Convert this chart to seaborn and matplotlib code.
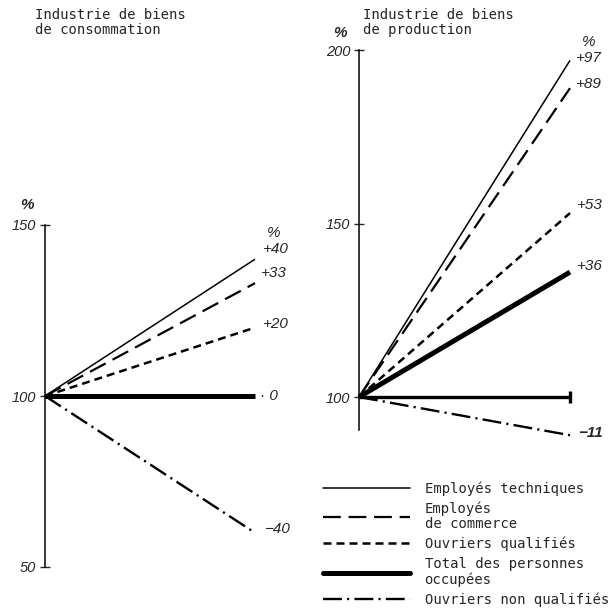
import numpy as np
import pandas as pd
import matplotlib
matplotlib.use('Agg')
import matplotlib.pyplot as plt
from matplotlib.lines import Line2D
import seaborn as sns

sns.set_style('white')
plt.rcParams['font.family'] = ['DejaVu Sans Mono', 'DejaVu Sans']

# categories and % change (index 100 at start)
categories = ['Employés techniques', 'Employés de commerce', 'Ouvriers qualifiés',
              'Total des personnes occupées', 'Ouvriers non qualifiés']
legend_labels = ['Employés techniques', 'Employés\nde commerce', 'Ouvriers qualifiés',
                 'Total des personnes\noccupées', 'Ouvriers non qualifiés']
conso_change = [40, 33, 20, 0, -40]
prod_change = [97, 89, 53, 36, -11]
conso_labels = ['+40', '+33', '+20', '· 0', '−40']
prod_labels = ['+97', '+89', '+53', '+36', '−11']
periods = [0, 1]

title_conso = 'Industrie de biens\nde consommation'
title_prod = 'Industrie de biens\nde production'

# line styles per category
widths = dict(zip(categories, [1.1, 1.6, 1.8, 3.6, 1.7]))
dashes = dict(zip(categories, ['', (8, 3.5), (3.2, 2), '', (8, 2.2, 0.9, 2.2)]))
colors = dict(zip(categories, ['black'] * 5))


def make_df(changes):
    rows = []
    for c, v in zip(categories, changes):
        for p in periods:
            rows.append({'x': p, 'cat': c, 'val': 100 + v * p})
    return pd.DataFrame(rows)


def style_axis(ax, ylim, ticks):
    ax.set_xlim(0, 1)
    ax.set_ylim(*ylim)
    for s in ['top', 'right', 'bottom']:
        ax.spines[s].set_visible(False)
    ax.spines['left'].set_linewidth(1.1)
    ax.spines['left'].set_color('black')
    ax.set_xticks([])
    ax.set_yticks(ticks)
    ax.set_yticklabels([str(t) for t in ticks])
    ax.tick_params(axis='y', direction='inout', length=7, width=1, pad=3, labelsize=10.5,
                   left=True)
    for lbl in ax.get_yticklabels():
        lbl.set_fontstyle('italic')
        lbl.set_family('Liberation Sans')
    ax.set_xlabel('')
    ax.set_ylabel('')
    ax.set_facecolor('none')


fig = plt.figure(figsize=(6.16, 6.10), dpi=100)
W, H = 616, 610

# left panel: biens de consommation
ax1 = fig.add_axes([45 / W, (H - 567) / H, 210 / W, 342 / H])
sns.lineplot(data=make_df(conso_change), x='x', y='val', hue='cat', style='cat', size='cat',
             palette=colors, dashes=dashes, sizes=widths, legend=False, ax=ax1,
             clip_on=False, solid_capstyle='butt')
style_axis(ax1, (50, 150), [150, 100, 50])

# right panel: biens de production
ax2 = fig.add_axes([359 / W, (H - 430) / H, 211 / W, 380 / H])
sns.lineplot(data=make_df(prod_change), x='x', y='val', hue='cat', style='cat', size='cat',
             palette=colors, dashes=dashes, sizes=widths, legend=False, ax=ax2,
             clip_on=False, solid_capstyle='butt')
ax2.hlines(100, 0, 1, color='black', lw=2.4, clip_on=False)
ax2.plot([1], [100], marker='|', ms=9, mew=2.4, color='black', clip_on=False)
style_axis(ax2, (90.5, 200), [200, 150, 100])

num_font = dict(family='Liberation Sans', style='italic', fontsize=11)

conso_off = [(7, 10), (5, 10), (7, 4), (5, 0), (9, 4)]
for v, lab, (dx, dy) in zip(conso_change, conso_labels, conso_off):
    ax1.annotate(lab, (1, 100 + v), xytext=(dx, dy), textcoords='offset pixels',
                 ha='left', va='center', annotation_clip=False, **num_font)
ax1.annotate('%', (1, 100 + conso_change[0]), xytext=(12, 26), textcoords='offset pixels',
             ha='left', va='center', annotation_clip=False, **num_font)

prod_off = [(5, 2), (5, 4), (6, 8), (6, 6), (8, 2)]
for i, (v, lab, (dx, dy)) in enumerate(zip(prod_change, prod_labels, prod_off)):
    ax2.annotate(lab, (1, 100 + v), xytext=(dx, dy), textcoords='offset pixels',
                 ha='left', va='center', annotation_clip=False,
                 fontweight='bold' if i == 4 else 'normal', **num_font)
ax2.annotate('%', (1, 100 + prod_change[0]), xytext=(12, 18), textcoords='offset pixels',
             ha='left', va='center', annotation_clip=False, **num_font)

# "%" above the axis tick labels
ax1.annotate('%', (0, 150), xytext=(-18, 20), textcoords='offset pixels', ha='center',
             va='center', annotation_clip=False, fontweight='bold', **num_font)
ax2.annotate('%', (0, 200), xytext=(-19, 17), textcoords='offset pixels', ha='center',
             va='center', annotation_clip=False, fontweight='bold', **num_font)

# titles
fig.text(35 / W, 1 - 8 / H, title_conso, ha='left', va='top', fontsize=10, linespacing=1.05)
fig.text(363 / W, 1 - 8 / H, title_prod, ha='left', va='top', fontsize=10, linespacing=1.05)

# legend
handles = [Line2D([0], [0], color='black', lw=widths[c],
                  linestyle='-' if dashes[c] == '' else '--')
           for c in categories]
for h, c in zip(handles, categories):
    if dashes[c]:
        h.set_dashes(dashes[c])
fs = 10
leg = fig.legend(handles, legend_labels, loc='upper left', bbox_to_anchor=(323 / W, 1 - 481 / H),
                 frameon=False, fontsize=fs, handlelength=87 / (fs * 100 / 72),
                 handletextpad=1.05, labelspacing=0.42, borderpad=0, borderaxespad=0)
for t in leg.get_texts():
    t.set_linespacing(1.1)

fig.savefig('out.png', dpi=100)
